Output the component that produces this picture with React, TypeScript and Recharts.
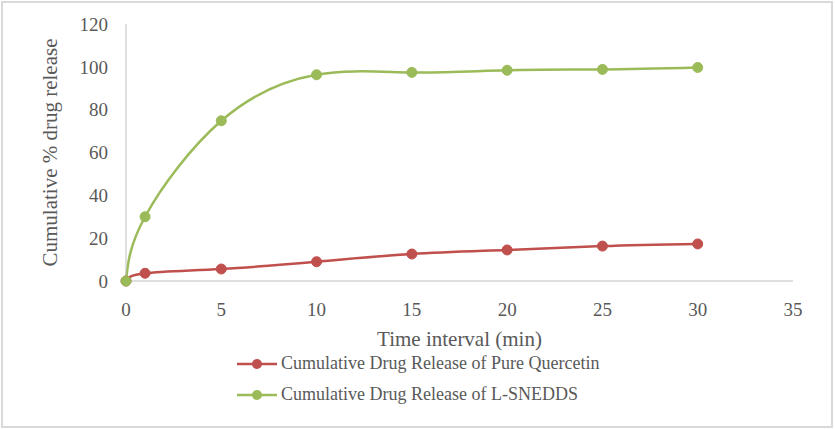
import React from 'react';
import { LineChart, Line, XAxis, YAxis, Legend } from 'recharts';

// Time points (min) and cumulative % drug release
const timePoints = [0, 1, 5, 10, 15, 20, 25, 30];
const pureQuercetin = [0, 3.6, 5.6, 9.0, 12.6, 14.5, 16.3, 17.3];
const lSnedds = [0, 30.0, 74.8, 96.3, 97.4, 98.4, 98.8, 99.7];

const xTicks = [0, 5, 10, 15, 20, 25, 30, 35];
const yTicks = [0, 20, 40, 60, 80, 100, 120];

const seriesNames = [
    'Cumulative Drug Release of Pure Quercetin',
    'Cumulative Drug Release of L-SNEDDS',
];

const RED = '#C0504D';
const GREEN = '#9BBB59';
const TEXT = '#595959';
const AXIS = '#BFBFBF';
const FONT = 'Liberation Serif, serif';

const data = timePoints.map((t, i) => ({
    time: t,
    quercetin: pureQuercetin[i],
    snedds: lSnedds[i],
}));

const LegendBox = () => {
    const colors = [RED, GREEN];
    return (
        <div style={{ height: 62, fontFamily: FONT, fontSize: 18, color: TEXT }}>
            {seriesNames.map((name, i) => (
                <div key={name} style={{ height: 31, display: 'flex', alignItems: 'center', whiteSpace: 'nowrap' }}>
                    <svg width={44} height={14} style={{ display: 'block' }}>
                        <line x1={0} y1={7} x2={40} y2={7} stroke={colors[i]} strokeWidth={2.5} />
                        <circle cx={20} cy={7} r={5} fill={colors[i]} />
                    </svg>
                    <span>{name}</span>
                </div>
            ))}
        </div>
    );
};

const App = () => {
    return (
        <div style={{ position: 'absolute', left: 0, top: 0, width: 835, height: 429, background: '#fff' }}>
            <div
                style={{
                    position: 'absolute', left: 1, top: 1, width: 832, height: 427,
                    border: '2px solid #D9D9D9', boxSizing: 'border-box',
                }}
            />
            <LineChart
                width={835}
                height={429}
                data={data}
                margin={{ top: 24, right: 42, left: 20, bottom: 19 }}
                style={{ position: 'absolute', left: 0, top: 0 }}
            >
                <XAxis
                    dataKey="time"
                    type="number"
                    domain={[0, 35]}
                    ticks={xTicks}
                    stroke={AXIS}
                    tickLine={false}
                    tickMargin={16}
                    height={67}
                    tick={{ fill: TEXT, fontSize: 19, fontFamily: FONT }}
                    label={{
                        value: 'Time interval (min)', position: 'insideTop', offset: 50,
                        fill: TEXT, fontSize: 21, fontFamily: FONT,
                    }}
                />
                <YAxis
                    type="number"
                    domain={[0, 120]}
                    ticks={yTicks}
                    stroke={AXIS}
                    tickLine={false}
                    tickMargin={12}
                    width={106}
                    tick={{ fill: TEXT, fontSize: 19, fontFamily: FONT }}
                    label={{
                        value: 'Cumulative % drug release', angle: -90, position: 'insideLeft', offset: 30,
                        fill: TEXT, fontSize: 21, fontFamily: FONT, style: { textAnchor: 'middle' },
                    }}
                />
                <Legend
                    verticalAlign="bottom"
                    layout="vertical"
                    content={<LegendBox />}
                    wrapperStyle={{ left: 237, width: 450 }}
                />
                <Line
                    type="natural"
                    dataKey="quercetin"
                    name={seriesNames[0]}
                    stroke={RED}
                    strokeWidth={2.5}
                    dot={{ r: 5, fill: RED, stroke: RED, strokeWidth: 1 }}
                    isAnimationActive={false}
                />
                <Line
                    type="natural"
                    dataKey="snedds"
                    name={seriesNames[1]}
                    stroke={GREEN}
                    strokeWidth={2.5}
                    dot={{ r: 5, fill: GREEN, stroke: GREEN, strokeWidth: 1 }}
                    isAnimationActive={false}
                />
            </LineChart>
        </div>
    );
};

export default App;
